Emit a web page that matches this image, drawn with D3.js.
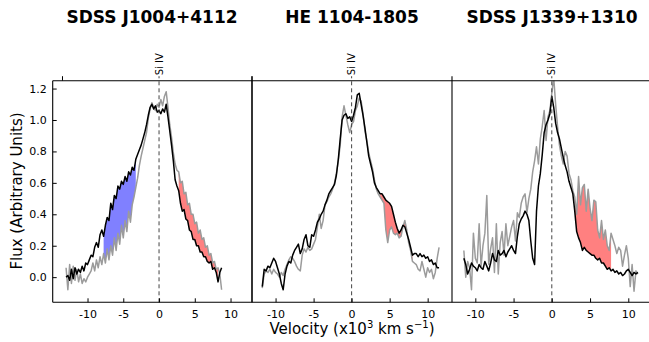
<!DOCTYPE html>
<html><head><meta charset="utf-8">
<script src="https://cdn.jsdelivr.net/npm/d3@7"></script>
<style>body{margin:0;background:#fff}svg{display:block}text{font-family:"DejaVu Sans",sans-serif}</style>
</head><body><svg id="c" width="649" height="342"></svg>
<script>
// ---------- data ----------
const titles = ["SDSS J1004+4112", "HE 1104-1805", "SDSS J1339+1310"];
const lineLabel = "Si IV";
const xTicks = [-10, -5, 0, 5, 10];
const yTicks = [0.0, 0.2, 0.4, 0.6, 0.8, 1.0, 1.2];
const xDomains = [[-14.87, 13.0], [-13.1, 13.2], [-13.05, 13.1]];
const yDomain = [-0.16, 1.25];

const vel1 = [-13,-12.75,-12.5,-12.25,-12,-11.75,-11.5,-11.25,-11,-10.75,-10.5,-10.25,-10,-9.75,-9.5,-9.25,-9,-8.75,-8.5,-8.25,-8,-7.75,-7.5,-7.25,-7,-6.75,-6.5,-6.25,-6,-5.75,-5.5,-5.25,-5,-4.75,-4.5,-4.25,-4,-3.75,-3.5,-3.25,-3,-2.75,-2.5,-2.25,-2,-1.75,-1.5,-1.25,-1,-0.75,-0.5,-0.25,0,0.25,0.5,0.75,1,1.25,1.5,1.75,2,2.25,2.5,2.75,3,3.25,3.5,3.75,4,4.25,4.5,4.75,5,5.25,5.5,5.75,6,6.25,6.5,6.75,7,7.25,7.5,7.75,8,8.25,8.5,8.75];
const black1 = [0.00,0.01,-0.02,0.05,-0.01,0.06,0.02,0.05,0.03,0.07,0.04,0.09,0.08,0.11,
 0.14,0.13,0.19,0.22,0.19,0.27,0.30,0.26,0.33,0.38,0.36,0.47,0.43,0.52,0.50,0.58,0.56,0.61,0.59,0.64,0.61,0.67,0.65,0.70,0.68,0.75,
 0.78,0.81,0.84,0.88,0.92,0.97,1.03,1.08,1.10,1.07,1.09,1.05,1.06,1.04,1.07,1.05,1.10,1.02,0.93,0.84,0.74,0.62,0.58,0.55,
 0.47,0.42,0.43,0.37,0.36,0.30,0.29,0.24,0.24,0.20,0.20,0.16,0.16,0.13,0.13,0.10,0.09,0.10,0.05,0.06,0.03,
 -0.03,0.03,0.06];
const gray1 = [0.06,-0.08,0.08,-0.04,0.07,-0.02,0.05,-0.03,0.02,-0.04,-0.01,-0.03,0.00,0.02,
 0.04,0.09,0.04,0.11,0.06,0.13,0.08,0.15,0.09,0.18,0.11,0.20,0.14,0.25,0.17,0.28,0.21,0.33,0.25,0.36,0.29,0.42,0.35,0.46,0.51,
 0.57,0.63,0.71,0.77,0.82,0.87,0.92,1.01,1.07,1.11,1.08,1.06,1.10,1.08,1.13,1.09,1.15,1.18,1.08,0.97,0.89,0.79,0.72,0.68,
 0.67,0.60,0.61,0.53,0.54,0.46,0.47,0.40,0.40,0.34,0.35,0.28,0.30,0.24,0.25,0.19,0.20,0.14,0.15,0.09,0.10,0.05,0.06,
 0.02,-0.08];

const vel2 = [-11.75,-11.5,-11.25,-11,-10.75,-10.5,-10.25,-10,-9.75,-9.5,-9.25,-9,-8.75,-8.5,-8.25,-8,-7.75,-7.5,-7.25,-7,-6.75,-6.5,-6.25,-6,-5.75,-5.5,-5.25,-5,-4.75,-4.5,-4.25,-4,-3.75,-3.5,-3.25,-3,-2.75,-2.5,-2.25,-2,-1.75,-1.5,-1.25,-1,-0.75,-0.5,-0.25,0,0.25,0.5,0.75,1,1.25,1.5,1.75,2,2.25,2.5,2.75,3,3.25,3.5,3.75,4,4.25,4.5,4.75,5,5.25,5.5,5.75,6,6.25,6.5,6.75,7,7.25,7.5,7.75,8,8.25,8.5,8.75,9,9.25,9.5,9.75,10,10.25,10.5,10.75,11,11.25,11.5];
const black2 = [-0.06,0.05,0.04,0.07,0.06,0.09,0.12,0.10,0.06,0.02,
 -0.04,-0.08,0.02,0.07,0.10,0.09,0.14,0.17,0.19,0.21,
 0.15,0.18,0.24,0.27,0.20,0.19,0.27,0.26,0.30,0.35,
 0.37,0.40,0.42,0.46,0.49,0.53,0.55,0.57,0.59,0.65,
 0.75,0.88,1.00,1.03,1.04,1.01,1.02,0.99,1.03,1.08,
 1.16,1.17,1.10,1.03,0.95,0.86,0.77,0.72,0.67,0.60,
 0.57,0.55,0.53,0.53,0.51,0.49,0.48,0.47,0.45,0.40,
 0.35,0.31,0.28,0.30,0.33,0.32,0.28,0.24,0.19,0.14,
 0.15,0.15,0.13,0.15,0.13,0.14,0.12,0.13,0.10,0.11,
 0.08,0.09,0.06,0.06];
const gray2 = [-0.07,0.02,0.04,0.03,0.05,0.02,0.05,0.03,0.02,0.00,
 0.03,0.01,0.05,0.08,0.11,0.13,0.12,0.10,0.07,0.05,
 0.04,0.14,0.18,0.16,0.19,0.17,0.18,0.21,0.24,0.32,
 0.40,0.31,0.36,0.46,0.48,0.51,0.53,0.56,0.60,0.66,
 0.74,0.84,1.02,1.09,1.03,0.97,0.92,0.97,0.99,1.06,
 1.09,1.14,1.12,1.04,0.93,0.87,0.79,0.74,0.69,0.62,
 0.56,0.53,0.51,0.49,0.47,0.30,0.22,0.30,0.32,0.28,
 0.27,0.28,0.25,0.26,0.32,0.36,0.30,0.22,0.17,0.10,
 0.09,0.08,0.05,0.04,0.10,0.05,0.00,0.06,0.03,0.05,
 -0.01,0.03,0.12,0.19];

const vel3 = [-11.5,-11.25,-11,-10.75,-10.5,-10.25,-10,-9.75,-9.5,-9.25,-9,-8.75,-8.5,-8.25,-8,-7.75,-7.5,-7.25,-7,-6.75,-6.5,-6.25,-6,-5.75,-5.5,-5.25,-5,-4.75,-4.5,-4.25,-4,-3.75,-3.5,-3.25,-3,-2.75,-2.5,-2.25,-2,-1.75,-1.5,-1.25,-1,-0.75,-0.5,-0.25,0,0.25,0.5,0.75,1,1.25,1.5,1.75,2,2.25,2.5,2.75,3,3.25,3.5,3.75,4,4.25,4.5,4.75,5,5.25,5.5,5.75,6,6.25,6.5,6.75,7,7.25,7.5,7.75,8,8.25,8.5,8.75,9,9.25,9.5,9.75,10,10.25,10.5,10.75,11,11.25];
const black3 = [0.12,0.08,0.02,0.05,0.09,0.07,0.06,0.04,0.08,0.06,
 0.05,0.10,0.07,0.04,0.09,0.15,0.11,0.10,0.17,0.14,
 0.15,0.17,0.13,0.16,0.18,0.20,0.17,0.15,0.26,0.34,
 0.37,0.39,0.42,0.40,0.36,0.23,0.12,0.08,0.42,0.58,
 0.66,0.78,0.92,0.97,1.00,1.04,1.15,1.08,0.98,0.92,
 0.88,0.82,0.76,0.71,0.67,0.61,0.57,0.53,0.42,0.29,
 0.25,0.22,0.17,0.19,0.17,0.16,0.15,0.14,0.14,0.12,
 0.11,0.12,0.09,0.09,0.07,0.05,0.06,0.04,0.05,0.03,
 0.04,0.02,0.03,0.01,0.02,0.04,0.05,0.03,0.01,0.03,
 0.02,0.03];
const gray3 = [0.17,0.00,0.10,0.06,-0.08,0.28,0.12,0.09,0.34,0.07,
 0.20,0.28,0.52,0.08,0.18,0.25,0.03,0.34,0.02,0.22,
 0.29,0.14,0.34,0.20,0.26,0.32,0.36,0.23,0.41,0.38,
 0.47,0.51,0.53,0.41,0.50,0.56,0.67,0.74,0.83,0.72,
 0.88,0.96,1.06,0.87,1.02,1.06,1.17,1.27,1.10,0.96,
 0.84,0.77,0.72,0.80,0.77,0.66,0.62,0.55,0.51,0.40,
 0.64,0.46,0.57,0.59,0.42,0.56,0.44,0.36,0.49,0.48,
 0.30,0.25,0.36,0.24,0.30,0.20,0.17,0.28,0.24,0.20,
 0.15,0.19,0.17,0.07,0.14,0.20,0.12,-0.06,0.08,-0.09,
 0.04,0.02];

// shaded regions [from, to, colour kind]
const fills1 = [[-7.75, -3.25, "blue"], [2.75, 8.25, "red"]];
const fills2 = [[3.75, 8.0, "red"]];
const fills3 = [[3.0, 7.75, "red"]];
const topTicks = [[-13.5], [], []];

// ---------- drawing ----------
const panels = [
  {vel: vel1, black: black1, gray: gray1, fills: fills1},
  {vel: vel2, black: black2, gray: gray2, fills: fills2},
  {vel: vel3, black: black3, gray: gray3, fills: fills3}
];
const fillColor = {blue: "#8080ff", red: "#ff8080"};
const svg = d3.select("#c");
const yTop = 80.7, yBot = 302.3;
const xRanges = [[52.7, 252], [252, 452], [452, 652]];
const y = d3.scaleLinear().domain(yDomain).range([yBot, yTop]);

panels.forEach((p, i) => {
  const x = d3.scaleLinear().domain(xDomains[i]).range(xRanges[i]);
  const g = svg.append("g");
  const cid = "clip" + i;
  svg.append("clipPath").attr("id", cid).append("rect")
    .attr("x", xRanges[i][0]).attr("y", yTop)
    .attr("width", xRanges[i][1] - xRanges[i][0]).attr("height", yBot - yTop);
  const n = Math.min(p.vel.length, p.black.length, p.gray.length);
  const pts = d3.range(n).map(k => ({v: p.vel[k], b: p.black[k], g: p.gray[k]}));
  const plot = g.append("g").attr("clip-path", `url(#${cid})`);

  p.fills.forEach(f => {
    const seg = pts.filter(d => d.v >= f[0] - 1e-9 && d.v <= f[1] + 1e-9);
    plot.append("path").datum(seg)
      .attr("d", d3.area().x(d => x(d.v)).y0(d => y(d.g)).y1(d => y(d.b)))
      .attr("fill", fillColor[f[2]]).attr("stroke", "none");
  });
  plot.append("path").datum(pts)
    .attr("d", d3.line().x(d => x(d.v)).y(d => y(d.g)))
    .attr("fill", "none").attr("stroke", "#9b9b9b").attr("stroke-width", 1.5).attr("stroke-linejoin", "round");
  plot.append("path").datum(pts)
    .attr("d", d3.line().x(d => x(d.v)).y(d => y(d.b)))
    .attr("fill", "none").attr("stroke", "#000").attr("stroke-width", 1.5).attr("stroke-linejoin", "round");

  // dashed line at zero velocity
  g.append("line").attr("x1", x(0)).attr("x2", x(0)).attr("y1", yBot).attr("y2", yTop - 4.5)
    .attr("stroke", "#444").attr("stroke-width", 1).attr("stroke-dasharray", "4,3");
  g.append("text").attr("transform", `translate(${x(0)},${yTop - 5.5}) rotate(-90)`)
    .attr("dominant-baseline", "central").attr("font-size", 10).attr("fill", "#000").text(lineLabel);

  // bottom axis (inward ticks)
  const ax = d3.axisBottom(x).tickValues(xTicks).tickSize(-4).tickPadding(8).tickFormat(d3.format("d"));
  const axg = g.append("g").attr("transform", `translate(0,${yBot})`).call(ax);
  axg.select(".domain").remove();
  axg.selectAll("text").attr("font-size", 11).attr("font-family", "DejaVu Sans").text(d => String(d));
  axg.selectAll("line").attr("stroke", "#000");

  // top ticks (outward)
  topTicks[i].forEach(t => {
    g.append("line").attr("x1", x(t)).attr("x2", x(t)).attr("y1", yTop).attr("y2", yTop - 4.5).attr("stroke", "#000");
  });

  // title
  g.append("text").attr("x", (xRanges[i][0] + xRanges[i][1]) / 2 - (i === 0 ? 0.35 : 0)).attr("y", 23)
    .attr("text-anchor", "middle").attr("font-size", 17).attr("font-weight", "bold").text(titles[i]);

  // frame
  g.append("line").attr("x1", xRanges[i][0]).attr("x2", xRanges[i][0]).attr("y1", yBot)
    .attr("y2", i === 0 ? yTop : yTop - 4.5).attr("stroke", "#000").attr("stroke-width", 1.1);
});

// y axis on first panel
const ay = d3.axisLeft(y).tickValues(yTicks).tickSize(-4).tickPadding(6).tickFormat(d3.format(".1f"));
const ayg = svg.append("g").attr("transform", `translate(${xRanges[0][0]},0)`).call(ay);
ayg.select(".domain").remove();
ayg.selectAll("text").attr("font-size", 11).attr("font-family", "DejaVu Sans");
svg.append("line").attr("x1", 252).attr("x2", 252).attr("y1", yTop - 4.5).attr("y2", yBot).attr("stroke", "#000").attr("stroke-width", 1.1);
svg.append("line").attr("x1", xRanges[0][0]).attr("x2", 652).attr("y1", yTop).attr("y2", yTop).attr("stroke", "#000").attr("stroke-width", 1.1);
svg.append("line").attr("x1", xRanges[0][0]).attr("x2", 652).attr("y1", yBot).attr("y2", yBot).attr("stroke", "#000").attr("stroke-width", 1.1);

// axis labels
svg.append("text").attr("transform", "translate(17,191) rotate(-90)").attr("text-anchor", "middle")
  .attr("dominant-baseline", "central").attr("font-size", 15).text("Flux (Arbitrary Units)");
const xl = svg.append("text").attr("x", 352).attr("y", 334).attr("text-anchor", "middle").attr("font-size", 15);
xl.append("tspan").text("Velocity (x10");
xl.append("tspan").attr("font-size", 10).attr("dy", -6).text("3");
xl.append("tspan").attr("dy", 6).text(" km s");
xl.append("tspan").attr("font-size", 10).attr("dy", -6).text("\u22121");
xl.append("tspan").attr("dy", 6).text(")");
</script></body></html>
